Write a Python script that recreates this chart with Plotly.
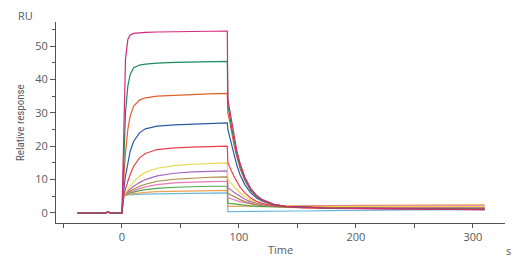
import plotly.graph_objects as go

# ---- data ----
t_base = [-38, -14, -12, -10, 0]
base_vals = [0, 0, 0.3, 0, 0]

t_assoc = [0.5, 1, 2, 3, 5, 7, 10, 15, 20, 30, 45, 60, 75, 90]
t_dissoc = [90.5, 92, 94, 96, 98, 101, 105, 110, 115, 120, 130, 140, 155, 175, 200, 250, 310]

names = ["c1", "c2", "c3", "c4", "c5", "c6", "c7", "c8", "c9", "c10", "c11", "c12"]
colors = ["#6ab8e0", "#f0a050", "#4aaa4a", "#e87ab8", "#a88a3a", "#a866c0",
          "#e8d84a", "#e8404a", "#2a5aa8", "#e0602a", "#1f8a5a", "#d42a7c"]

assoc = [
    [2.5, 4.2, 5.1, 5.3, 5.4, 5.45, 5.5, 5.6, 5.65, 5.7, 5.8, 5.85, 5.9, 6.0],
    [2.5, 4.2, 5.1, 5.4, 5.6, 5.7, 5.9, 6.1, 6.2, 6.4, 6.5, 6.6, 6.7, 6.8],
    [2.5, 4.2, 5.1, 5.5, 5.8, 6.0, 6.3, 6.7, 7.0, 7.4, 7.7, 7.9, 8.0, 8.0],
    [2.5, 4.2, 5.1, 5.6, 6.0, 6.3, 6.7, 7.3, 7.8, 8.5, 9.0, 9.3, 9.4, 9.5],
    [2.5, 4.2, 5.2, 5.7, 6.2, 6.6, 7.2, 8.0, 8.6, 9.5, 10.1, 10.5, 10.7, 10.8],
    [2.5, 4.2, 5.2, 5.8, 6.5, 7.1, 8.0, 9.1, 10.0, 11.1, 11.9, 12.3, 12.5, 12.6],
    [2.5, 4.2, 5.3, 6.0, 7.0, 8.0, 9.3, 11.0, 12.2, 13.4, 14.2, 14.6, 14.8, 15.0],
    [2.6, 4.5, 6.0, 7.3, 9.5, 11.5, 14.0, 16.5, 17.8, 19.0, 19.5, 19.7, 19.9, 20.0],
    [3.0, 5.5, 8.5, 11.0, 15.0, 18.5, 21.5, 24.0, 25.2, 26.0, 26.4, 26.6, 26.8, 27.0],
    [4.0, 7.0, 13.0, 18.0, 25.0, 29.0, 32.0, 33.8, 34.5, 35.0, 35.3, 35.5, 35.7, 35.8],
    [5.0, 10.0, 22.0, 30.0, 38.0, 41.5, 43.5, 44.3, 44.6, 44.9, 45.1, 45.2, 45.3, 45.4],
    [7.0, 16.0, 35.0, 46.0, 52.0, 53.3, 53.8, 54.0, 54.1, 54.2, 54.3, 54.4, 54.5, 54.5],
]

dissoc = [
    [0.4, 0.4, 0.4, 0.4, 0.4, 0.4, 0.45, 0.5, 0.5, 0.5, 0.55, 0.6, 0.6, 0.7, 0.8, 0.9, 1.0],
    [2.0, 2.0, 2.0, 2.0, 2.0, 2.0, 2.0, 2.0, 2.0, 2.0, 2.1, 2.1, 2.2, 2.2, 2.3, 2.3, 2.4],
    [3.0, 2.9, 2.8, 2.7, 2.6, 2.5, 2.3, 2.1, 2.0, 1.9, 1.8, 1.8, 1.7, 1.7, 1.7, 1.7, 1.7],
    [4.5, 4.4, 4.1, 3.9, 3.7, 3.4, 3.0, 2.7, 2.5, 2.4, 2.2, 2.1, 2.1, 2.1, 2.1, 2.1, 2.1],
    [5.8, 5.6, 5.2, 4.8, 4.5, 4.0, 3.4, 2.9, 2.5, 2.2, 1.9, 1.7, 1.6, 1.6, 1.5, 1.5, 1.4],
    [7.6, 7.3, 6.7, 6.1, 5.6, 4.9, 4.1, 3.4, 2.9, 2.5, 2.1, 1.9, 1.8, 1.7, 1.7, 1.6, 1.6],
    [10.0, 9.5, 8.6, 7.8, 7.0, 6.0, 4.9, 3.9, 3.2, 2.8, 2.3, 2.1, 2.0, 1.9, 1.9, 1.9, 1.9],
    [15.0, 14.0, 12.3, 10.8, 9.4, 7.7, 6.0, 4.5, 3.5, 2.9, 2.1, 1.8, 1.5, 1.4, 1.3, 1.1, 1.0],
    [25.0, 23.0, 19.8, 17.0, 14.5, 11.4, 8.5, 6.0, 4.5, 3.5, 2.4, 2.0, 1.7, 1.5, 1.4, 1.3, 1.2],
    [30.0, 27.5, 23.5, 20.0, 17.0, 13.2, 9.7, 6.7, 4.9, 3.7, 2.5, 2.0, 1.8, 1.6, 1.5, 1.4, 1.3],
    [32.0, 29.5, 25.0, 21.2, 18.0, 14.0, 10.2, 7.0, 5.0, 3.8, 2.5, 2.0, 1.7, 1.5, 1.4, 1.3, 1.2],
    [34.0, 31.0, 26.5, 22.5, 19.0, 14.8, 10.8, 7.4, 5.3, 4.0, 2.6, 2.0, 1.7, 1.5, 1.4, 1.2, 1.0],
]

x_tickvals = [0, 100, 200, 300]
y_tickvals = [0, 10, 20, 30, 40, 50]

# ---- figure ----
fig = go.Figure()
for name, col, a, d in zip(names, colors, assoc, dissoc):
    xs = t_base + t_assoc + t_dissoc
    ys = base_vals + a + d
    fig.add_trace(go.Scatter(x=xs, y=ys, mode="lines", name=name,
                             line=dict(color=col, width=1.2), showlegend=False))

W, H = 529, 264
L, R, T, B = 56, 24, 22, 41
pw, ph = W - L - R, H - T - B

def px(x):
    return (x - L) / pw

def py(y):
    return (H - B - y) / ph

tickfont = dict(family="Open Sans, Lato, sans-serif", size=11, color="#555a60")
axcol = "#4d5359"

fig.update_layout(
    width=W, height=H,
    margin=dict(l=L, r=R, t=T, b=B),
    paper_bgcolor="white", plot_bgcolor="white",
    xaxis=dict(range=[-56.4, 327.4], showgrid=False, zeroline=False,
               showline=True, linecolor=axcol, linewidth=1,
               tickvals=x_tickvals, ticks="outside", ticklen=4, tickcolor=axcol,
               tickfont=tickfont,
               minor=dict(dtick=50, tick0=0, ticks="outside", ticklen=4, tickcolor=axcol)),
    yaxis=dict(range=[-3, 57.2], showgrid=False, zeroline=False,
               showline=True, linecolor=axcol, linewidth=1,
               tickvals=y_tickvals, ticks="outside", ticklen=5, tickcolor=axcol,
               tickfont=tickfont,
               minor=dict(dtick=5, tick0=0, ticks="outside", ticklen=3, tickcolor=axcol)),
)

ann_font = dict(family="Open Sans, Lato, sans-serif", size=11, color="#555a60")

def label(text, x, y, **kw):
    fig.add_annotation(text=text, x=px(x), y=py(y), xref="paper", yref="paper",
                       xanchor="center", yanchor="middle", showarrow=False, **kw)

label("RU", 25, 16, font=ann_font)
label("Relative response", 20, 123, textangle=-90,
      font=dict(family="Liberation Sans Narrow, Roboto Condensed, Roboto, sans-serif",
                size=11, color="#555a60"))
label("Time", 280, 249, font=ann_font)
label("s", 508, 250, font=ann_font)

fig.write_html("out.html")
